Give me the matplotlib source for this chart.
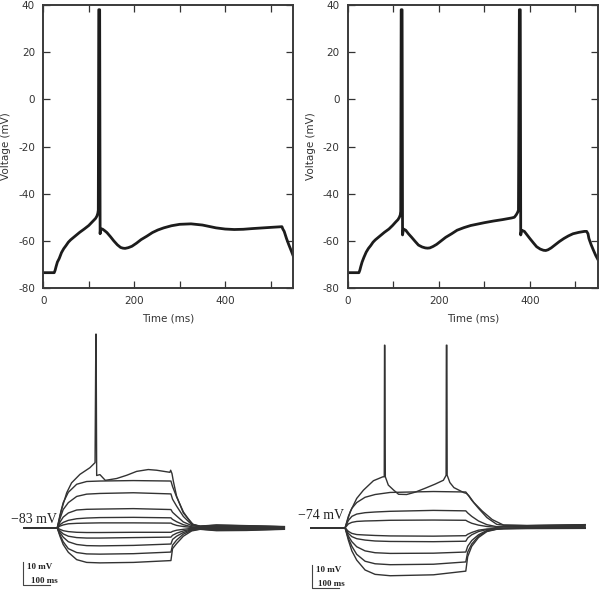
import matplotlib
matplotlib.use("Agg")
import matplotlib.pyplot as plt

plt.rcParams["axes.unicode_minus"] = False
plt.rcParams["font.family"] = "DejaVu Sans"

INK = "#333333"

# --- simulated traces (top row): time in ms, voltage in mV
sim1_t = [0, 24, 26, 28, 31, 35, 40, 45, 50, 55, 60, 70, 80, 90, 100, 110, 115, 118, 120, 121, 122, 124, 125, 126, 130,
          135, 140, 148, 155, 163, 170, 175, 180, 187, 195, 205, 215, 228, 240, 252, 265, 282, 300, 325, 350, 365, 380,
          400, 420, 440, 460, 500, 525, 527, 530, 535, 540, 545, 550]
sim1_v = [-73.5, -73.5, -72.5, -71, -69, -67.5, -65, -63.3, -62, -60.6, -59.6, -58, -56.4, -55, -53.5, -51.5, -50.5, -49.5, -48.3, -47, 38, 38, -57, -55, -55,
          -55.7, -56.5, -58.3, -60, -61.7, -62.8, -63.1, -63.2, -62.9, -62.3, -61, -59.5, -58, -56.5, -55.4, -54.5, -53.6, -53, -52.8, -53.3, -53.9, -54.5,
          -55, -55.2, -55.1, -54.8, -54.3, -54, -55, -56, -59, -61.6, -64, -66.5]

sim2_t = [0, 24, 26, 28, 31, 35, 40, 45, 50, 55, 60, 70, 80, 90, 98, 105, 110, 113, 115, 116, 117, 119, 120, 122, 127,
          133, 140, 148, 155, 163, 170, 175, 180, 187, 195, 205, 215, 228, 240, 255, 270, 285, 300, 320, 340, 360, 366, 370, 373, 375, 377, 379, 380, 382, 388,
          394, 400, 408, 415, 423, 430, 435, 440, 447, 455, 465, 475, 485, 495, 508, 520, 525, 528, 530, 535, 540, 545, 550]
sim2_v = [-73.5, -73.5, -72.5, -71, -69, -67, -64.8, -63.2, -62, -60.6, -59.6, -58, -56.4, -55, -53.5, -52, -51, -50, -49, -47.5, 38, 38, -57.5, -55, -55.5,
          -57, -58.5, -60.3, -61.8, -62.6, -63, -63.1, -63, -62.4, -61.5, -60, -58.5, -57, -55.5, -54.4, -53.5, -52.9, -52.3, -51.6, -51, -50.3, -50, -49, -48, -47, 38, 38, -57.5, -55.5, -56,
          -57.5, -59, -60.9, -62.5, -63.5, -64, -64.1, -63.8, -63, -61.8, -60.3, -59, -57.9, -57, -56.4, -56, -56, -57, -59, -61.7, -64, -66.2, -68]

# --- recorded traces (bottom row), left cell, resting at -83 mV
rec1_t = [-122, 0, 10, 22, 41, 72, 109, 158, 282, 421, 427, 442, 467, 498, 529, 590, 700, 841]
rec1_traces = [
    [-83, -83, -77.5, -72, -67.5, -64, -62.8, -62.6, -62.4, -62.6, -65, -69.5, -76, -81.3, -82.2, -81.7, -82, -82.4],
    [-83, -83, -79, -75, -72, -69.3, -68.3, -68, -67.7, -68.2, -70.5, -73.5, -78, -81.6, -82.3, -82, -82.2, -82.5],
    [-83, -83, -80.5, -78.3, -76.5, -75.2, -74.9, -74.8, -74.6, -75, -76.2, -77.8, -80.4, -82, -82.5, -82.3, -82.4, -82.6],
    [-83, -83, -81.6, -80.6, -79.7, -79, -78.7, -78.5, -78.4, -78.6, -79.3, -80.3, -81.6, -82.5, -82.7, -82.6, -82.6, -82.8],
    [-83, -83, -82.2, -81.7, -81.2, -81, -80.9, -80.8, -80.8, -80.9, -81.3, -81.9, -82.4, -82.8, -82.9, -82.8, -82.8, -82.9],
    [-83, -83, -83.6, -84.2, -84.6, -84.9, -85, -85, -84.9, -84.9, -84.5, -84, -83.6, -83.2, -83.1, -83.3, -83.2, -83.1],
    [-83, -83, -84.3, -85.6, -86.6, -87.2, -87.4, -87.4, -87.2, -87, -86.2, -85.3, -84.3, -83.5, -83.3, -83.6, -83.5, -83.3],
    [-83, -83, -85, -87, -89, -90.2, -90.7, -90.8, -90.6, -90, -88, -86.6, -85, -83.7, -83.4, -83.8, -83.7, -83.4],
    [-83, -83, -86, -89, -92, -93.7, -94.3, -94.4, -94.2, -93.5, -90.5, -88.3, -85.7, -84, -83.5, -84, -83.9, -83.5],
    [-83, -83, -86.6, -90.2, -93.6, -96.8, -98, -98.2, -98, -97.2, -92, -89.8, -86.6, -84.3, -83.6, -84.2, -84.1, -83.6],
]
rec1_spike_t = [-122, 0, 16, 35, 53, 84, 121, 140, 143, 144, 146, 158, 178, 220, 257, 294, 337, 368, 417, 420,
                425, 430, 442, 467, 504, 529, 590, 700, 841]
rec1_spike_v = [-83, -83, -75, -67.7, -63.4, -59.7, -56.8, -54.6, 1.3, 1.3, -60.2, -59.8, -62.3, -61.5, -60.1, -58.4, -57.6, -57.9, -58.8, -57.9,
                -59.4, -62.7, -69.2, -76.5, -81.6, -82.3, -81.8, -82.1, -82.5]

# --- right cell, resting at -74 mV
rec2_t = [-127, 0, 12, 25, 43, 74, 111, 167, 327, 447, 454, 469, 494, 525, 562, 587, 673, 889]
rec2_traces = [
    [-74, -74, -69, -65.5, -63, -60.7, -59.5, -58.6, -58.2, -58.4, -59.5, -62, -65.5, -69.5, -72.5, -72.8, -73, -72.6],
    [-74, -74, -70.8, -69, -68, -67.4, -67.1, -66.8, -66.4, -66.6, -67.5, -69, -71, -72.6, -73.5, -73.3, -73.3, -73],
    [-74, -74, -72.3, -71.6, -71.2, -71, -70.9, -70.7, -70.6, -70.7, -71.2, -72, -72.8, -73.4, -73.8, -73.6, -73.6, -73.3],
    [-74, -74, -75.5, -76.4, -76.9, -77.1, -77.3, -77.5, -77.6, -77.4, -76.8, -76, -75, -74.5, -74.2, -74.1, -74, -74],
    [-74, -74, -76.4, -77.8, -78.7, -79.3, -79.7, -79.9, -80, -79.8, -78.4, -77, -75.6, -74.7, -74.3, -74.2, -74.1, -74],
    [-74, -74, -77.5, -80, -82.2, -84, -84.8, -85.1, -85, -84.5, -82, -79.5, -77, -75.1, -74.4, -74.3, -74.1, -74.1],
    [-74, -74, -78.5, -82, -85.5, -88.5, -89.6, -90, -89.8, -88.8, -84.5, -81, -77.6, -75.4, -74.5, -74.3, -74.2, -74.2],
    [-74, -74, -79.3, -84, -88, -92.3, -94.2, -94.8, -94.4, -92.8, -86.5, -82, -78.2, -75.6, -74.6, -74.4, -74.3, -74.2],
]
rec2_spike_t = [-127, 0, 19, 43, 68, 105, 140, 145, 146, 147, 149, 160, 179, 198, 228, 259, 296, 333, 364, 373,
                374, 375, 377, 378, 388, 403, 440, 449, 459, 477, 508, 545, 587, 673, 889]
rec2_spike_v = [-74, -74, -67, -61.2, -57.6, -53.5, -51.8, -51.8, 5.4, 5.4, -51.8, -55.4, -57.5, -59.4, -59.5, -58.5, -56.8, -55, -53.3, -51.4,
                -51.1, 5.4, 5.4, -51.1, -54.3, -56.5, -58.7, -59, -60.1, -63, -66.7, -70.4, -72.8, -73, -72.6]

xticks = [0, 200, 400]
xminor = [0, 100, 200, 300, 400, 500]
yticks = [-80, -60, -40, -20, 0, 20, 40]

fig = plt.figure(figsize=(6, 5.9), dpi=100)
W, H = 600.0, 590.0


def px_axes(left, top, right, bottom):
    return fig.add_axes([left / W, 1 - bottom / H, (right - left) / W, (bottom - top) / H])


def sim_panel(ax, t, v):
    ax.plot(t, v, color="#1c1c1c", lw=2.0, solid_joinstyle="round")
    ax.set_xlim(0, 550)
    ax.set_ylim(-80, 40)
    ax.set_xticks(xminor, [str(x) if x in xticks else "" for x in xminor])
    ax.set_yticks(yticks)
    ax.tick_params(direction="in", length=5, width=0.9, labelsize=7.5, top=True, right=True,
                   colors=INK, pad=6)
    ax.set_xlabel("Time (ms)", fontsize=7.5, color=INK, labelpad=5)
    ax.set_ylabel("Voltage (mV)", fontsize=7.5, color=INK, labelpad=5)
    for s in ax.spines.values():
        s.set_linewidth(1.4)
        s.set_color("#3a3a3a")


def rec_panel(ax, t, traces, spike_t, spike_v, xlim, ylim, label, label_xy, bar_xy, bar_text_off):
    for v in traces:
        ax.plot(t, v, color="#333333", lw=1.0)
    ax.plot(spike_t, spike_v, color="#333333", lw=1.0)
    ax.set_xlim(*xlim)
    ax.set_ylim(*ylim)
    ax.axis("off")
    ax.text(label_xy[0], label_xy[1], label, family="Liberation Serif", fontsize=10, color="#222222",
            ha="right", va="bottom")
    bx, by = bar_xy
    ax.plot([bx, bx, bx + 100], [by + 10, by, by], color="#444444", lw=0.8)
    ax.text(bx + 15, by + 8, "10 mV", family="Liberation Serif", fontsize=6.5, fontweight="bold",
            color="#222222", va="center")
    ax.text(bx + bar_text_off, by + 1.8, "100 ms", family="Liberation Serif", fontsize=6.5, fontweight="bold",
            color="#222222", va="center")


sim_panel(px_axes(43.3, 5, 293.3, 288), sim1_t, sim1_v)
sim_panel(px_axes(348, 5, 598, 288), sim2_t, sim2_v)

rec_panel(px_axes(0, 330, 300, 590), rec1_t, rec1_traces, rec1_spike_t, rec1_spike_v,
          (-212, 899), (-110, 3.1), "\u221283 mV", (-3, -82), (-127, -107.8), 28)
rec_panel(px_axes(300, 330, 600, 590), rec2_t, rec2_traces, rec2_spike_t, rec2_spike_v,
          (-167, 944), (-101, 12), "\u221274 mV", (-3, -71.5), (-122, -100.2), 22)

fig.savefig("out.png", dpi=100)
